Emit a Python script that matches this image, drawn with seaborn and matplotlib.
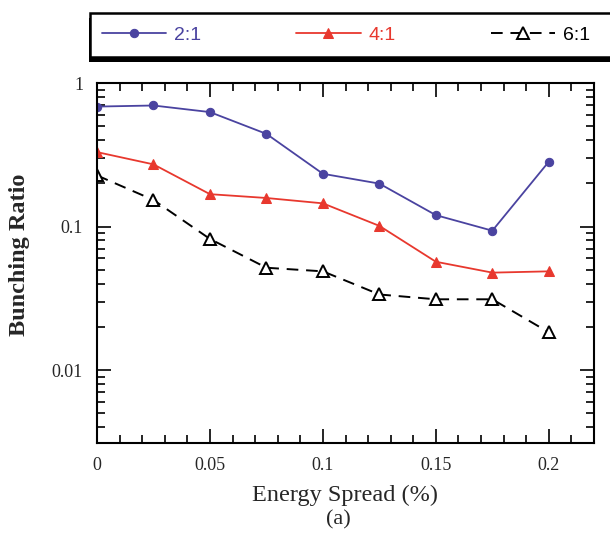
import numpy as np
import pandas as pd
import matplotlib
matplotlib.use("Agg")
import matplotlib.pyplot as plt
from matplotlib.patches import Rectangle
from matplotlib.ticker import MultipleLocator, LogLocator, FixedLocator, FixedFormatter, NullFormatter
import seaborn as sns

energy_spread = [0, 0.025, 0.05, 0.075, 0.1, 0.125, 0.15, 0.175, 0.2]
ratio_2_1 = [0.685, 0.697, 0.627, 0.442, 0.233, 0.199, 0.120, 0.0935, 0.283]
ratio_4_1 = [0.330, 0.271, 0.168, 0.158, 0.145, 0.101, 0.0568, 0.0477, 0.0487]
ratio_6_1 = [0.227, 0.153, 0.0819, 0.0516, 0.0487, 0.0336, 0.0311, 0.0311, 0.0183]
series_labels = ["2:1", "4:1", "6:1"]
x_tick_values = [0, 0.05, 0.1, 0.15, 0.2]
x_tick_labels = ["0", "0.05", "0.1", "0.15", "0.2"]
y_tick_values = [0.01, 0.1, 1]
y_tick_labels = ["0.01", "0.1", "1"]

sns.set_style("ticks")
plt.rcParams["font.family"] = ["Liberation Serif", "DejaVu Serif"]

fig = plt.figure(figsize=(6.1, 5.33), dpi=100)
ax = fig.add_axes([97/610, 1-443/533, (594-97)/610, (443-83)/533])

df = pd.DataFrame({"x": energy_spread * 3,
                   "y": ratio_2_1 + ratio_4_1 + ratio_6_1,
                   "s": [series_labels[0]]*9 + [series_labels[1]]*9 + [series_labels[2]]*9})

blue = "#4a43a0"
red = "#e8382e"
sns.lineplot(data=df[df.s == "2:1"], x="x", y="y", ax=ax, color=blue, lw=1.3,
             marker="o", markersize=6, markeredgecolor=blue, label="2:1")
sns.lineplot(data=df[df.s == "4:1"], x="x", y="y", ax=ax, color=red, lw=1.3,
             marker="^", markersize=7, markeredgecolor=red, label="4:1")
sns.lineplot(data=df[df.s == "6:1"], x="x", y="y", ax=ax, color="black", lw=1.4,
             marker="^", markersize=9, markerfacecolor="white", markeredgecolor="black",
             markeredgewidth=1.4, dashes=(6, 4), label="6:1")

ax.set_yscale("log")
ax.set_xlim(0, 0.22)
ax.set_ylim(0.0031, 1)

ax.xaxis.set_major_locator(FixedLocator(x_tick_values))
ax.xaxis.set_major_formatter(FixedFormatter(x_tick_labels))
ax.xaxis.set_minor_locator(MultipleLocator(0.01))
ax.yaxis.set_major_locator(FixedLocator(y_tick_values))
ax.yaxis.set_major_formatter(FixedFormatter(y_tick_labels))
ax.yaxis.set_minor_locator(LogLocator(base=10, subs=np.arange(2, 10)))
ax.yaxis.set_minor_formatter(NullFormatter())

ax.tick_params(which="both", direction="in", top=True, right=True, width=1.2, color="black")
ax.tick_params(which="major", length=10, labelsize=13, pad=10)
ax.tick_params(which="minor", length=6)
for sp in ax.spines.values():
    sp.set_linewidth(1.5)
    sp.set_color("black")

ax.set_xlabel("Energy Spread (%)", fontsize=17.5, labelpad=8)
ax.set_ylabel("Bunching Ratio", fontsize=17.5, fontweight="bold")
ax.yaxis.set_label_coords(-0.135, 0.522)
fig.text(338/610, 1-520/533, "(a)", ha="center", va="center", fontsize=16)

# legend frame with shadow
fw, fh = 610, 533
shadow = Rectangle((89/fw, 1-62/fh), 1.0, 44/fh, transform=fig.transFigure,
                   facecolor="black", edgecolor="none", zorder=1)
frame = Rectangle((90/fw, 1-57/fh), 1.0, 44/fh, transform=fig.transFigure,
                  facecolor="white", edgecolor="black", lw=1.8, zorder=2)
fig.patches.extend([shadow, frame])

ax.get_legend().remove()
handles, labels = ax.get_legend_handles_labels()
leg = fig.legend(handles, labels, loc="center left", ncol=3,
                 bbox_to_anchor=(102/fw, 1-35/fh),
                 frameon=False, borderpad=0, borderaxespad=0,
                 prop={"family": "Liberation Sans", "size": 14},
                 labelcolor="linecolor", handlelength=3.3, handletextpad=0.4,
                 columnspacing=4.9)
leg.set_zorder(3)

fig.savefig("out.png", dpi=100)
